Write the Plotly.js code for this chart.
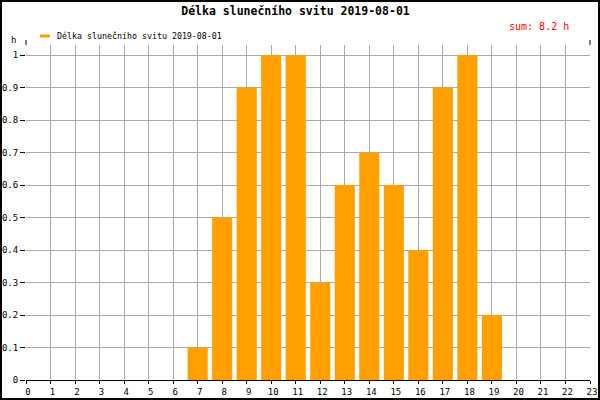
<!DOCTYPE html>
<html>
<head>
<meta charset="utf-8">
<script src="https://cdn.plot.ly/plotly-3.0.1.min.js"></script>
<style>
html,body{margin:0;padding:0;background:#fff;}
#wrap{position:relative;width:600px;height:400px;}
#chart{width:600px;height:400px;}
#frame{position:absolute;left:0;top:0;width:600px;height:400px;box-sizing:border-box;border:2px solid #000;pointer-events:none;}
</style>
</head>
<body>
<div id="wrap"><div id="chart"></div><div id="frame"></div></div>
<script>
const hours = [0,1,2,3,4,5,6,7,8,9,10,11,12,13,14,15,16,17,18,19,20,21,22,23];
const sunshine = [0,0,0,0,0,0,0,0.1,0.5,0.9,1,1,0.3,0.6,0.7,0.6,0.4,0.9,1,0.2,0,0,0,0];
const titleText = 'Délka slunečního svitu 2019-08-01';
const seriesName = 'Délka slunečního svitu 2019-08-01';
const sumText = 'sum: 8.2 h';
const yUnit = 'h';
const yTicks = [0,0.1,0.2,0.3,0.4,0.5,0.6,0.7,0.8,0.9,1];
const orange = '#ffa000';
const mono = 'DejaVu Sans Mono, monospace';

const trace = {
  type: 'bar',
  x: hours,
  y: sunshine,
  marker: {color: orange, line: {width: 0}},
  showlegend: false,
  hoverinfo: 'x+y'
};

const layout = {
  width: 600, height: 400,
  margin: {l: 26, r: 10, t: 45, b: 20, pad: 0},
  paper_bgcolor: '#ffffff',
  plot_bgcolor: '#ffffff',
  bargap: 0.18,
  showlegend: false,
  title: {
    text: titleText,
    font: {family: mono, size: 11.5, color: '#000', weight: 'bold'},
    xref: 'container', yref: 'container',
    x: 0.4925, y: 0.9725, xanchor: 'center', yanchor: 'middle'
  },
  xaxis: {
    range: [0, 23],
    tickvals: hours,
    ticktext: hours.map(String),
    showgrid: true, gridcolor: '#aaaaaa', gridwidth: 1,
    zeroline: false,
    showline: true, linecolor: '#000', linewidth: 1,
    ticks: 'outside', ticklen: 3, tickcolor: '#000', tickwidth: 1,
    tickfont: {family: mono, size: 9, color: '#000'},
    ticklabelshift: 2,
    fixedrange: true
  },
  yaxis: {
    range: [0, 335/325],
    tickvals: yTicks,
    ticktext: yTicks.map(String),
    showgrid: true, gridcolor: '#aaaaaa', gridwidth: 1,
    zeroline: false,
    showline: false,
    ticks: 'outside', ticklen: 5, tickcolor: '#000', tickwidth: 1,
    tickfont: {family: mono, size: 9, color: '#000'},
    fixedrange: true
  },
  shapes: [
    {type: 'line', xref: 'paper', yref: 'paper', x0: 0, x1: 0, y0: 1, y1: 1 + 5/335, line: {color: '#000', width: 1}},
    {type: 'line', xref: 'paper', yref: 'paper', x0: 1, x1: 1, y0: 1, y1: 1 + 5/335, line: {color: '#000', width: 1}},
    {type: 'line', xref: 'paper', yref: 'paper', x0: 14/564, x1: 24/564, y0: 344/335, y1: 344/335, line: {color: orange, width: 3}}
  ],
  annotations: [
    {text: seriesName, xref: 'paper', yref: 'paper', x: 29/564, y: 344/335, xanchor: 'left', yanchor: 'middle', showarrow: false,
     font: {family: mono, size: 8.3, color: '#000'}},
    {text: sumText, xref: 'paper', yref: 'paper', x: 545/564, y: 353/335, xanchor: 'right', yanchor: 'middle', showarrow: false,
     font: {family: mono, size: 10, color: '#ff0000'}},
    {text: yUnit, xref: 'paper', yref: 'paper', x: -13/564, y: 340/335, xanchor: 'center', yanchor: 'middle', showarrow: false,
     font: {family: mono, size: 9, color: '#000'}}
  ]
};

Plotly.newPlot('chart', [trace], layout, {displayModeBar: false, staticPlot: true});
</script>
</body>
</html>
